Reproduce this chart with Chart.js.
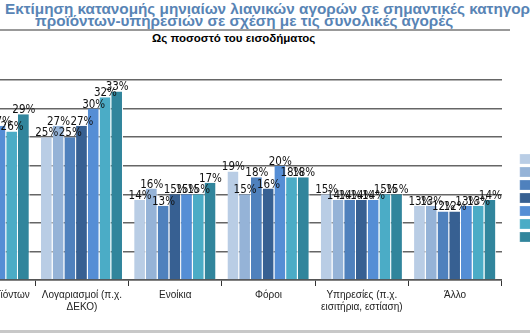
<!DOCTYPE html>
<html lang="el">
<head>
<meta charset="utf-8">
<script src="https://cdn.jsdelivr.net/npm/chart.js@4/dist/chart.umd.min.js"></script>
<style>
  html, body { margin: 0; padding: 0; }
  body { width: 530px; height: 333px; overflow: hidden; position: relative; background: #fff; font-family: "Liberation Sans", Arial, sans-serif; }
  .head { position: absolute; left: 5px; top: 3px; color: #5884b5; font-weight: bold; font-size: 15.3px; line-height: 12px; white-space: nowrap; }
  .head .l2 { padding-left: 30px; }
  .rule { position: absolute; left: 0; top: 29px; width: 510px; height: 2px; background: #999; }
  .sub { position: absolute; left: 152px; top: 32px; font-weight: bold; font-size: 11.5px; color: #000; white-space: nowrap; }
  .band { position: absolute; left: 0; top: 330px; width: 530px; height: 3px; background: #c8c8c8; }
  .wrap { position: absolute; left: -80px; top: 40px; width: 648px; height: 314px; }
</style>
</head>
<body>
<div class="head">Εκτίμηση κατανομής μηνιαίων λιανικών αγορών σε σημαντικές κατηγορίες<br><span class="l2">προϊόντων-υπηρεσιών σε σχέση με τις συνολικές αγορές</span></div>
<div class="rule"></div>
<div class="sub">Ως ποσοστό του εισοδήματος</div>
<div class="wrap"><canvas id="grafico"></canvas></div>
<div class="band"></div>
<script>
// κατηγορίες (άξονας x)
const kathgories = [
  ["Αγορές προϊόντων"],
  ["Λογαριασμοί (π.χ.", "ΔΕΚΟ)"],
  ["Ενοίκια"],
  ["Φόροι"],
  ["Υπηρεσίες (π.χ.", "εισιτήρια, εστίαση)"],
  ["Άλλο"]
];

// σειρές (υπόμνημα)
const seires = ["2006", "2007", "2008", "2009", "2010", "2011", "2012"];
const xromata = ["#b9cde5", "#95b3d7", "#4f81bd", "#376092", "#558ed5", "#4bacc6", "#31859c"];

// τιμές % ανά σειρά
const s1 = [26, 25, 14, 19, 15, 13];
const s2 = [27, 27, 16, 15, 14, 13];
const s3 = [26, 25, 13, 18, 14, 12];
const s4 = [27, 27, 15, 16, 14, 12];
const s5 = [27, 30, 15, 20, 14, 13];
const s6 = [26, 32, 15, 18, 15, 13];
const s7 = [29, 33, 17, 18, 15, 14];
const times = [s1, s2, s3, s4, s5, s6, s7];

const yMax = 35;
const yBhma = 5;

// ετικέτες τιμών πάνω από κάθε μπάρα
const etiketes = {
  id: "etiketes",
  afterDatasetsDraw(chart) {
    const ctx = chart.ctx;
    ctx.save();
    ctx.font = '11.5px "Liberation Sans Narrow", "DejaVu Sans Condensed", Arial, sans-serif';
    ctx.fillStyle = "#111";
    ctx.textAlign = "center";
    ctx.textBaseline = "alphabetic";
    chart.data.datasets.forEach((ds, i) => {
      chart.getDatasetMeta(i).data.forEach((bar, j) => {
        ctx.fillText(ds.data[j] + "%", bar.x, bar.y - 1);
      });
    });
    ctx.restore();
  }
};

new Chart(document.getElementById("grafico"), {
  type: "bar",
  data: {
    labels: kathgories,
    datasets: seires.map((s, i) => ({
      label: s,
      data: times[i],
      backgroundColor: xromata[i],
      borderColor: "#fff",
      borderWidth: { top: 0, right: 1, bottom: 0, left: 0 },
      borderSkipped: "start",
      categoryPercentage: 0.88,
      barPercentage: 1
    }))
  },
  options: {
    responsive: true,
    maintainAspectRatio: false,
    animation: false,
    layout: { padding: { left: 22, right: 0, top: 40, bottom: 38 } },
    plugins: {
      title: { display: false },
      tooltip: { enabled: false },
      legend: {
        position: "right",
        labels: {
          boxWidth: 11,
          boxHeight: 10,
          padding: 3,
          color: "#222",
          font: { size: 10, family: "Liberation Sans" }
        }
      }
    },
    scales: {
      x: {
        grid: { display: true, drawOnChartArea: false, drawTicks: true, tickLength: 6, color: "#333", lineWidth: 1 },
        border: { display: true, color: "#555", width: 1.5 },
        ticks: { color: "#222", font: { size: 10, family: "Liberation Sans" }, padding: 3, maxRotation: 0, autoSkip: false }
      },
      y: {
        position: "right",
        min: 0,
        max: yMax,
        ticks: { stepSize: yBhma, display: false },
        grid: { color: "#666", lineWidth: 1.5, drawTicks: false },
        border: { display: false },
        afterFit: s => { s.width = 15; }
      }
    }
  },
  plugins: [etiketes]
});
</script>
</body>
</html>
